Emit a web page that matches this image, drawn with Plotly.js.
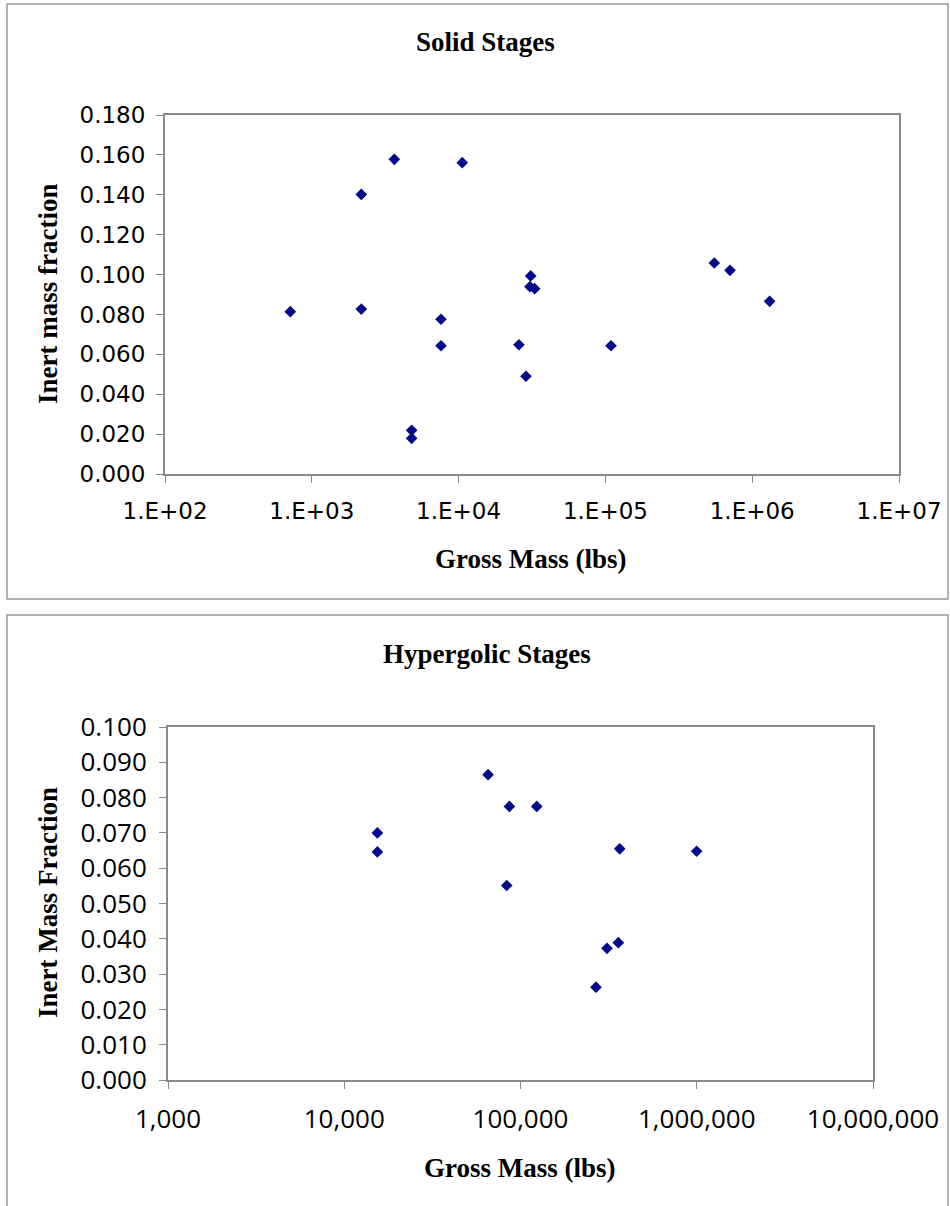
<!DOCTYPE html>
<html>
<head>
<meta charset="utf-8">
<script src="https://cdn.plot.ly/plotly-3.0.1.min.js"></script>
<style>html,body{margin:0;padding:0;background:#fff;}#chart{width:950px;height:1206px;}</style>
</head>
<body>
<div id="chart"></div>
<script>
// Solid stages: gross mass (lbs) vs inert mass fraction
const solidMass = [714, 2174, 2174, 3648, 10590, 4786, 4786, 7586, 7586, 25770, 28770, 30970, 30620, 32960, 109200, 552000, 706000, 1315000];
const solidFrac = [0.0814, 0.1402, 0.0827, 0.1578, 0.1561, 0.0219, 0.0179, 0.0776, 0.0643, 0.0648, 0.0490, 0.0993, 0.0939, 0.0929, 0.0643, 0.1058, 0.1021, 0.0866];

// Hypergolic stages
const hyperMass = [15420, 15420, 65460, 86500, 123600, 83500, 365600, 999000, 309600, 359000, 268000];
const hyperFrac = [0.0700, 0.0646, 0.0865, 0.0775, 0.0775, 0.0551, 0.0655, 0.0648, 0.0373, 0.0389, 0.0263];

// Tick labels
const solidXTicks = [1e2, 1e3, 1e4, 1e5, 1e6, 1e7];
const solidXLabels = ["1.E+02", "1.E+03", "1.E+04", "1.E+05", "1.E+06", "1.E+07"];
const hyperXTicks = [1e3, 1e4, 1e5, 1e6, 1e7];
const hyperXLabels = ["1,000", "10,000", "100,000", "1,000,000", "10,000,000"];

const W = 950, H = 1206;
const px = v => v / W;
const py = v => 1 - v / H;

const markerStyle = {symbol: 'diamond', size: 9, color: '#000C8C', line: {width: 0}};

const traces = [
  {x: solidMass, y: solidFrac, type: 'scatter', mode: 'markers', marker: markerStyle, xaxis: 'x', yaxis: 'y', hoverinfo: 'x+y'},
  {x: hyperMass, y: hyperFrac, type: 'scatter', mode: 'markers', marker: markerStyle, xaxis: 'x2', yaxis: 'y2', hoverinfo: 'x+y'}
];

const axisLine = {showline: true, linecolor: '#8a8a8a', linewidth: 2, mirror: true, showgrid: false, zeroline: false,
  ticks: 'outside', ticklen: 7, tickcolor: '#8a8a8a', tickwidth: 1, fixedrange: true};

const tickFontTop = {family: 'DejaVu Sans, Verdana, sans-serif', size: 23, color: '#000'};
const tickFontBot = {family: 'Open Sans, sans-serif', size: 26, color: '#000'};
const titleFont = {family: 'Liberation Serif, Times New Roman, serif', size: 27, color: '#000', weight: 'bold'};

const layout = {
  width: W, height: H,
  margin: {l: 0, r: 0, t: 0, b: 0},
  paper_bgcolor: '#fff', plot_bgcolor: '#fff',
  showlegend: false,
  xaxis: Object.assign({}, axisLine, {type: 'log', range: [2, 7], domain: [px(165), px(899)], anchor: 'y',
    tickvals: solidXTicks, ticktext: solidXLabels, tickfont: tickFontTop, ticklabelstandoff: 8}),
  yaxis: Object.assign({}, axisLine, {range: [0, 0.18], domain: [py(474), py(115)], anchor: 'x',
    tickvals: [0, 0.02, 0.04, 0.06, 0.08, 0.10, 0.12, 0.14, 0.16, 0.18], tickformat: '.3f', tickfont: tickFontTop, ticklabelstandoff: 6}),
  xaxis2: Object.assign({}, axisLine, {type: 'log', range: [3, 7], domain: [px(168), px(873)], anchor: 'y2',
    tickvals: hyperXTicks, ticktext: hyperXLabels, tickfont: tickFontBot, ticklabelstandoff: 8}),
  yaxis2: Object.assign({}, axisLine, {range: [0, 0.1], domain: [py(1080), py(727)], anchor: 'x2',
    tickvals: [0, 0.01, 0.02, 0.03, 0.04, 0.05, 0.06, 0.07, 0.08, 0.09, 0.10], tickformat: '.3f', tickfont: tickFontBot, ticklabelstandoff: 7}),
  shapes: [
    {type: 'rect', xref: 'paper', yref: 'paper', x0: px(7), x1: px(948), y0: py(599), y1: py(4), line: {color: '#9a9a9a', width: 1.5}, fillcolor: 'rgba(0,0,0,0)', layer: 'below'},
    {type: 'rect', xref: 'paper', yref: 'paper', x0: px(7), x1: px(948), y0: py(1210), y1: py(615), line: {color: '#9a9a9a', width: 1.5}, fillcolor: 'rgba(0,0,0,0)', layer: 'below'}
  ],
  annotations: [
    {text: 'Solid Stages', x: px(485), y: py(42), xref: 'paper', yref: 'paper', xanchor: 'center', yanchor: 'middle', showarrow: false, font: titleFont},
    {text: 'Gross Mass (lbs)', x: px(531), y: py(559), xref: 'paper', yref: 'paper', xanchor: 'center', yanchor: 'middle', showarrow: false, font: titleFont},
    {text: 'Inert mass fraction', x: px(48), y: py(294), xref: 'paper', yref: 'paper', xanchor: 'center', yanchor: 'middle', textangle: -90, showarrow: false, font: titleFont},
    {text: 'Hypergolic Stages', x: px(487), y: py(654), xref: 'paper', yref: 'paper', xanchor: 'center', yanchor: 'middle', showarrow: false, font: titleFont},
    {text: 'Gross Mass (lbs)', x: px(520), y: py(1168), xref: 'paper', yref: 'paper', xanchor: 'center', yanchor: 'middle', showarrow: false, font: titleFont},
    {text: 'Inert Mass Fraction', x: px(48), y: py(903), xref: 'paper', yref: 'paper', xanchor: 'center', yanchor: 'middle', textangle: -90, showarrow: false, font: titleFont}
  ]
};

Plotly.newPlot('chart', traces, layout, {displayModeBar: false, staticPlot: true});
</script>
</body>
</html>
